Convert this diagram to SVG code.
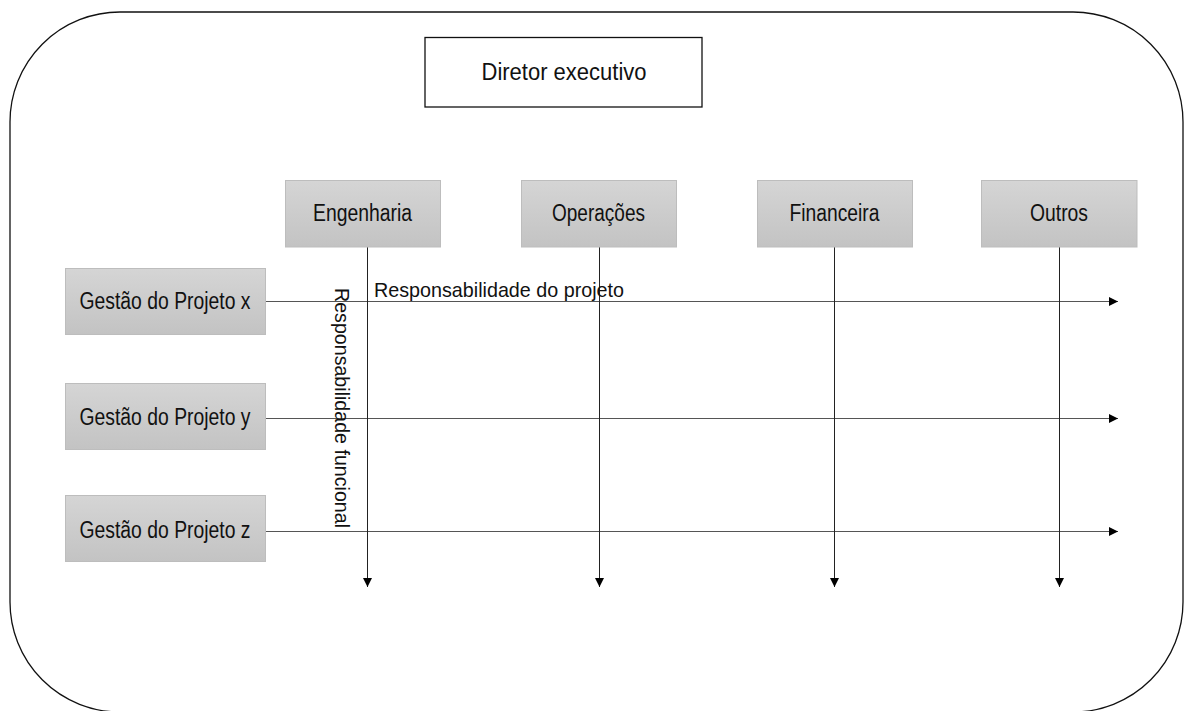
<svg xmlns="http://www.w3.org/2000/svg" width="1184" height="711" viewBox="0 0 1184 711">
<style>
text{font-family:'Liberation Sans Narrow','Liberation Sans',Arial,sans-serif;fill:#111;}
.lbl{font-size:23px;text-anchor:middle;}
.box{fill:url(#g);stroke:#bdbdbd;stroke-width:1;}
.ln{stroke:#222;stroke-width:1;fill:none;}
.hl{stroke:#555;stroke-width:1.2;fill:none;}
</style>
<defs>
<linearGradient id="g" x1="0" y1="0" x2="0" y2="1">
<stop offset="0" stop-color="#d5d5d5"/>
<stop offset="1" stop-color="#c3c3c3"/>
</linearGradient>
<marker id="ah" viewBox="0 0 10 10" refX="10" refY="5" markerWidth="9" markerHeight="9" markerUnits="userSpaceOnUse" orient="auto">
<path d="M0,0 L10,5 L0,10 Z" fill="#000"/>
</marker>
</defs>
<rect id="frame" x="10" y="12" width="1173" height="700" rx="110" ry="110" fill="none" stroke="#111" stroke-width="1.3"/>
<g id="diretor">
<rect x="425" y="37.5" width="277" height="69.5" fill="#fff" stroke="#111" stroke-width="1.3"/>
<text class="lbl" x="564" y="80" textLength="165" lengthAdjust="spacingAndGlyphs">Diretor executivo</text>
</g>
<g id="connectors">
<line class="hl" x1="266" y1="301.5" x2="1118" y2="301.5" marker-end="url(#ah)"/>
<line class="hl" x1="266" y1="418.5" x2="1118" y2="418.5" marker-end="url(#ah)"/>
<line class="hl" x1="266" y1="531.5" x2="1118" y2="531.5" marker-end="url(#ah)"/>
<line class="ln" x1="367.5" y1="247" x2="367.5" y2="587" marker-end="url(#ah)"/>
<line class="ln" x1="599.5" y1="247" x2="599.5" y2="587" marker-end="url(#ah)"/>
<line class="ln" x1="834.5" y1="247" x2="834.5" y2="587" marker-end="url(#ah)"/>
<line class="ln" x1="1059.5" y1="247" x2="1059.5" y2="587" marker-end="url(#ah)"/>
<text x="374" y="297" font-size="21" textLength="250" lengthAdjust="spacingAndGlyphs">Responsabilidade do projeto</text>
<text x="0" y="0" font-size="21" transform="translate(335,288) rotate(90)" textLength="240" lengthAdjust="spacingAndGlyphs">Responsabilidade funcional</text>
</g>
<g id="engenharia">
<rect class="box" x="285.5" y="180.5" width="155" height="66.5"/>
<text class="lbl" x="362.5" y="221" textLength="99" lengthAdjust="spacingAndGlyphs">Engenharia</text>
</g>
<g id="operacoes">
<rect class="box" x="521.5" y="180.5" width="155" height="66.5"/>
<text class="lbl" x="598.5" y="221" textLength="93" lengthAdjust="spacingAndGlyphs">Operações</text>
</g>
<g id="financeira">
<rect class="box" x="757.5" y="180.5" width="155" height="66.5"/>
<text class="lbl" x="834.5" y="221" textLength="90" lengthAdjust="spacingAndGlyphs">Financeira</text>
</g>
<g id="outros">
<rect class="box" x="981.5" y="180.5" width="155.5" height="66.5"/>
<text class="lbl" x="1059" y="221" textLength="58" lengthAdjust="spacingAndGlyphs">Outros</text>
</g>
<g id="projeto-x">
<rect class="box" x="65.5" y="268.5" width="200" height="66"/>
<text class="lbl" x="165" y="309" textLength="171" lengthAdjust="spacingAndGlyphs">Gestão do Projeto x</text>
</g>
<g id="projeto-y">
<rect class="box" x="65.5" y="383.5" width="200" height="66"/>
<text class="lbl" x="165" y="425" textLength="171" lengthAdjust="spacingAndGlyphs">Gestão do Projeto y</text>
</g>
<g id="projeto-z">
<rect class="box" x="65.5" y="495.5" width="200" height="66"/>
<text class="lbl" x="165" y="538" textLength="171" lengthAdjust="spacingAndGlyphs">Gestão do Projeto z</text>
</g>
</svg>
